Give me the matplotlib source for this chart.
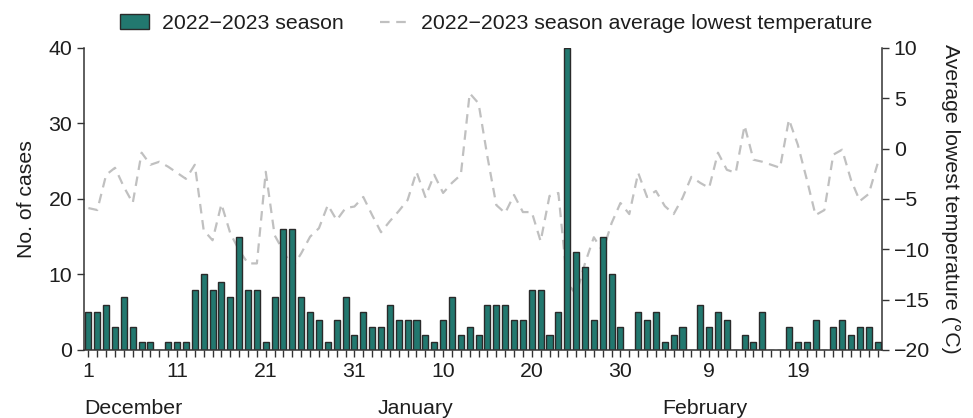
import numpy as np
import pandas as pd
import matplotlib
matplotlib.use('Agg')
import matplotlib.pyplot as plt
import matplotlib.patches as mpatches
from matplotlib.transforms import blended_transform_factory

plt.rcParams['font.family'] = ['Liberation Sans', 'DejaVu Sans']

# 2022-12-01 .. 2023-02-28, one value per day
dates = pd.date_range('2022-12-01', '2023-02-28', freq='D')

cases = [5, 5, 6, 3, 7, 3, 1, 1, 0, 1,
         1, 1, 8, 10, 8, 9, 7, 15, 8, 8,
         1, 7, 16, 16, 7, 5, 4, 1, 4, 7,
         2, 5, 3, 3, 6, 4, 4, 4, 2, 1,
         4, 7, 2, 3, 2, 6, 6, 6, 4, 4,
         8, 8, 2, 5, 40, 13, 11, 4, 15, 10,
         3, 0, 5, 4, 5, 1, 2, 3, 0, 6,
         3, 5, 4, 0, 2, 1, 5, 0, 0, 3,
         1, 1, 4, 0, 3, 4, 2, 3, 3, 1]

temp_low = [-5.9, -6.1, -2.6, -1.9, -3.8, -5.4, -0.4, -1.6, -1.3, -1.8,
            -2.4, -3.0, -1.6, -8.1, -9.1, -5.5, -8.4, -10.1, -11.4, -11.4,
            -2.3, -8.6, -10.2, -11.8, -10.4, -8.75, -7.9, -5.6, -7.1, -5.9,
            -5.75, -4.8, -6.6, -8.3, -7.2, -6.2, -5.1, -2.3, -4.8, -2.6,
            -4.4, -3.4, -2.6, 5.5, 4.5, -0.8, -5.6, -6.4, -4.6, -6.3,
            -6.3, -9.2, -4.7, -4.4, -13.3, -14.5, -11.4, -8.8, -10.2, -7.4,
            -5.4, -6.5, -2.4, -4.8, -4.2, -5.7, -6.5, -4.9, -2.8, -3.4,
            -3.9, -0.4, -2.1, -2.4, 2.3, -1.1, -1.3, -1.6, -1.9, 2.9,
            0.4, -3.0, -6.6, -6.1, -0.6, -0.1, -3.1, -5.2, -4.5, -1.5]

months = ['December', 'January', 'February']
month_pos = [0.5, 37.9, 70.5]   # day index where each month name sits
month_ha = ['left', 'center', 'center']

bar_color = '#22786f'
edge_color = '#2a2a2a'
line_color = '#c0c0c0'
axis_color = '#333333'
text_color = '#1e1e1e'
fs = 15.3

day = np.arange(1, len(dates) + 1)

fig = plt.figure(figsize=(9.73, 4.18), dpi=100)
ax = fig.add_axes([0.0863, 0.1627, 0.8202, 0.7225])
ax2 = ax.twinx()

# bars above the temperature line
ax.set_zorder(ax2.get_zorder() + 1)
ax.patch.set_visible(False)

ax.bar(day, cases, width=0.68, color=bar_color, edgecolor=edge_color, linewidth=1.0)
line, = ax2.plot(day, temp_low, color=line_color, linewidth=1.6,
                 linestyle=(0, (4.3, 3.0)),
                 label='2022\u22122023 season average lowest temperature')

ax.set_xlim(0.5, 90.5)
ax.set_ylim(0, 40)
ax.set_yticks(range(0, 41, 10))
ax2.set_ylim(-20, 10)
ax2.set_yticks(range(-20, 11, 5))

# a tick for every day, label every 10th
xlabels = [str(d.day) if (i % 10 == 0) else '' for i, d in enumerate(dates)]
ax.set_xticks(day)
ax.set_xticklabels(xlabels)

for a in (ax, ax2):
    a.spines['top'].set_visible(False)
    for s in ('left', 'right', 'bottom'):
        a.spines[s].set_color(axis_color)
        a.spines[s].set_linewidth(1.1)
    a.tick_params(direction='out', length=5, width=1.0, color=axis_color,
                  labelsize=fs, labelcolor=text_color)
ax.spines['right'].set_visible(False)
ax2.spines['left'].set_visible(False)
ax2.spines['bottom'].set_visible(False)
ax.tick_params(axis='x', pad=4)

ax.set_ylabel('No. of cases', fontsize=fs, color=text_color, labelpad=9)
ax2.set_ylabel('Average lowest temperature (\u00b0C)', fontsize=fs,
               color=text_color, rotation=270, labelpad=22)

trans = blended_transform_factory(ax.transData, ax.transAxes)
for name, pos, ha in zip(months, month_pos, month_ha):
    ax.text(pos, -0.195, name, transform=trans, ha=ha, va='center',
            fontsize=fs, color=text_color)

bar_proxy = mpatches.Patch(facecolor=bar_color, edgecolor=edge_color, linewidth=1.0,
                           label='2022\u22122023 season')
fig.legend(handles=[bar_proxy, line], loc='upper left', bbox_to_anchor=(0.104, 1.012),
           ncol=2, frameon=False, fontsize=fs, handlelength=1.35,
           handletextpad=0.6, columnspacing=1.7, labelcolor=text_color)

fig.savefig('out.png', dpi=100)
